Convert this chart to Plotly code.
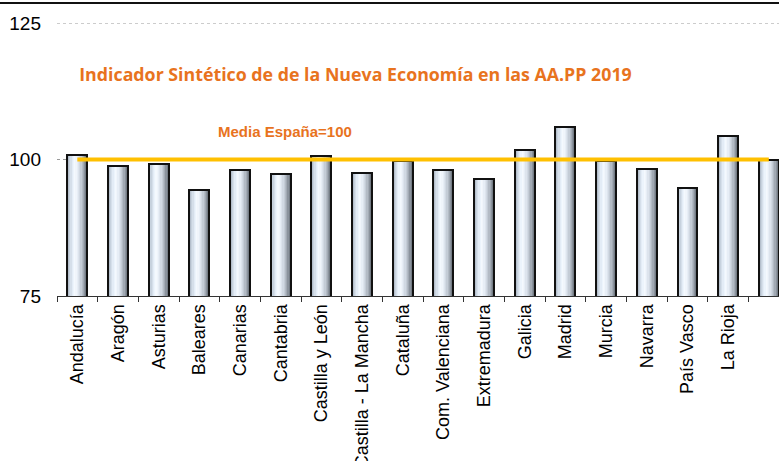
import plotly.graph_objects as go

# ---- data ----
regiones = ["Andalucía", "Aragón", "Asturias", "Baleares", "Canarias", "Cantabria",
            "Castilla y León", "Castilla - La Mancha", "Cataluña", "Com. Valenciana",
            "Extremadura", "Galicia", "Madrid", "Murcia", "Navarra", "País Vasco",
            "La Rioja", " "]
indicador = [100.9, 98.8, 99.1, 94.5, 98.0, 97.4, 100.7, 97.5, 99.7, 98.1,
             96.5, 101.7, 106.0, 99.7, 98.2, 94.7, 104.3, 100.0]
media_espana = 100
y_ticks = [75, 100, 125]

titulo = "Indicador Sintético de de la Nueva Economía en las AA.PP 2019"
etiqueta_media = "Media España=100"

# ---- style helpers ----
def hex2rgb(h):
    h = h.lstrip("#")
    return tuple(int(h[i:i + 2], 16) for i in (0, 2, 4))

stops = [(0.0, "#8d97a4"), (0.12, "#bfcad7"), (0.3, "#e7f0fa"), (0.42, "#f6faff"),
         (0.55, "#e5ecf5"), (0.7, "#c9d1db"), (0.85, "#a0a8b2"), (1.0, "#687079")]

def grad(t):
    for (t0, c0), (t1, c1) in zip(stops[:-1], stops[1:]):
        if t0 <= t <= t1:
            a = (t - t0) / (t1 - t0)
            r0, r1 = hex2rgb(c0), hex2rgb(c1)
            return "rgb(%d,%d,%d)" % tuple(round(r0[k] + (r1[k] - r0[k]) * a) for k in range(3))
    return stops[-1][1]

BAR_W = 0.49
N = 16
fig = go.Figure()
sw = BAR_W / N
for i in range(N):
    fig.add_trace(go.Bar(
        x=regiones, y=indicador,
        width=sw * 1.4, offset=-BAR_W / 2 + i * sw - (0.2 * sw if i > 0 else 0),
        marker=dict(color=grad((i + 0.5) / N), line=dict(width=0)),
        hoverinfo="skip", showlegend=False))

# outline
fig.add_trace(go.Bar(
    x=regiones, y=indicador, width=BAR_W, offset=-BAR_W / 2,
    marker=dict(color="rgba(0,0,0,0)", line=dict(color="#111111", width=2)),
    showlegend=False, hovertemplate="%{x}: %{y}<extra></extra>"))

# Media España line
fig.add_trace(go.Scatter(
    x=[regiones[0], regiones[-1]], y=[media_espana, media_espana], mode="lines",
    line=dict(color="#FFC000", width=4), showlegend=False, hoverinfo="skip"))

fig.update_layout(
    width=779, height=461,
    margin=dict(l=57, r=0, t=23, b=165, autoexpand=False),
    paper_bgcolor="white", plot_bgcolor="white",
    barmode="overlay", bargap=0,
    font=dict(family="Liberation Sans, Arial, sans-serif", color="black"),
    title=dict(text="<b>" + titulo + "</b>", x=355.5 / 779, xref="container", xanchor="center",
               y=1 - 75 / 461, yref="container", yanchor="middle",
               font=dict(family="Open Sans, sans-serif", size=17.8, color="#E8731E")),
    xaxis=dict(type="category", range=[-0.5, 17.25], tickangle=-90, automargin=False,
               tickfont=dict(size=18, family="Liberation Sans, Arial"),
               showline=True, linecolor="#333333", linewidth=1,
               ticks="outside", ticklen=5, tickcolor="#333333", tickson="boundaries",
               showgrid=False, fixedrange=True),
    yaxis=dict(range=[75, 125], tickvals=y_ticks, showline=False, automargin=False,
               tickfont=dict(size=19, family="Liberation Sans, Arial"),
               showgrid=True, gridcolor="#9a9a9a", griddash="dot", gridwidth=1,
               zeroline=False, ticks="", ticklabelstandoff=15, fixedrange=True),
    annotations=[dict(text="<b>" + etiqueta_media + "</b>", xref="paper", yref="paper",
                      x=(285 - 57) / 722, y=(296 - 131) / 273, xanchor="center",
                      yanchor="middle", showarrow=False,
                      font=dict(size=15, color="#E8731E", family="Liberation Sans, Arial"))],
    shapes=[
        dict(type="line", xref="paper", yref="paper", x0=-0.1, x1=1.0,
             y0=(296 - 3) / 273, y1=(296 - 3) / 273,
             line=dict(color="#111111", width=2)),
        dict(type="line", xref="paper", yref="y", x0=0, x1=1.0,
             y0=y_ticks[-1], y1=y_ticks[-1], layer="below",
             line=dict(color="#9a9a9a", width=1, dash="dot")),
    ],
)

fig.write_html("out.html", config={"displayModeBar": False},
               post_script="document.body.style.margin='0';")
